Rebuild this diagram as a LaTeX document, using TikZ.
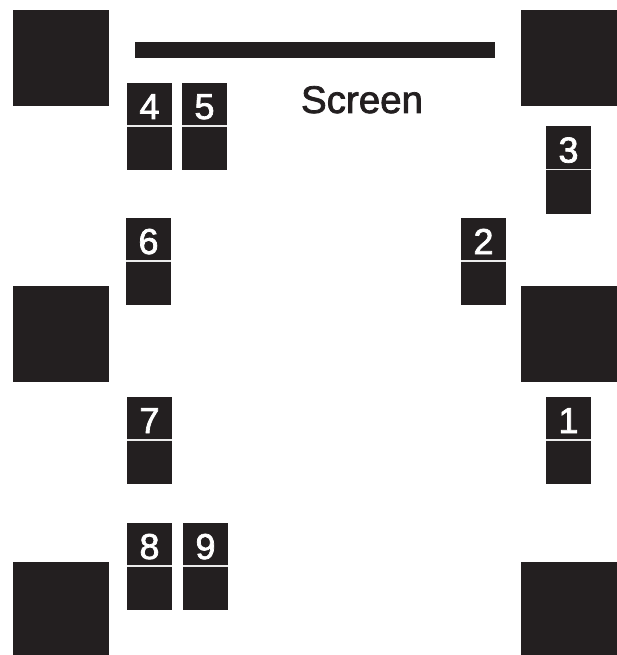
\documentclass[tikz,border=0pt]{standalone}
\usepackage{fontspec}
\setmainfont{Liberation Sans}
\newfontfamily\medfont{Liberation Sans}[FakeBold=2]
\definecolor{ink}{RGB}{35,31,32}
\definecolor{sep}{RGB}{235,235,235}
\begin{document}
\begin{tikzpicture}[x=1pt,y=-1pt,
  bigbox/.style={rectangle, fill=ink, minimum width=96pt, minimum height=96pt, inner sep=0pt},
  spk/.style={rectangle, fill=ink, minimum width=45pt, minimum height=87pt, inner sep=0pt,
    path picture={\draw[sep, line width=1.6pt] ([yshift=0.5pt]path picture bounding box.west) -- ([yshift=0.5pt]path picture bounding box.east);}},
  num/.style={anchor=base, text=white, inner sep=0pt, font=\medfont\fontsize{36}{36}\selectfont},
  bar/.style={rectangle, fill=ink, minimum width=360pt, minimum height=16pt, inner sep=0pt}]
\useasboundingbox (0,0) rectangle (616,655);
% large squares
\node[bigbox] (tl) at (61,58) {};
\node[bigbox] (tr) at (569,58) {};
\node[bigbox] (ml) at (61,334) {};
\node[bigbox] (mr) at (569,334) {};
\node[bigbox] (bl) at (61,610) {};
\node[bigbox] (br) at (569,610) {};
% screen
\node[bar] (screen) at (315,50) {};
\node[anchor=base, inner sep=0pt, text=ink, font=\medfont\fontsize{38.5}{38.5}\selectfont] (screenlbl) at (362,113) {Screen};
% speakers
\node[spk] (s4) at (149.5,126.5) {};
\node[spk] (s5) at (204.5,126.5) {};
\node[spk] (s3) at (568.5,170) {};
\node[spk] (s6) at (148.5,261.5) {};
\node[spk] (s2) at (483.5,261.5) {};
\node[spk] (s7) at (149.5,440.5) {};
\node[spk] (s1) at (568.5,440.5) {};
\node[spk] (s8) at (149.5,566.5) {};
\node[spk] (s9) at (205.5,566.5) {};
% numbers
\node[num] (n4) at ([yshift=7.5pt]s4.center) {4};
\node[num] (n5) at ([yshift=7.5pt]s5.center) {5};
\node[num] (n3) at ([yshift=7.5pt]s3.center) {3};
\node[num] (n6) at ([yshift=7.5pt]s6.center) {6};
\node[num] (n2) at ([yshift=7.5pt]s2.center) {2};
\node[num] (n7) at ([yshift=7.5pt]s7.center) {7};
\node[num] (n1) at ([yshift=7.5pt]s1.center) {1};
\node[num] (n8) at ([yshift=7.5pt]s8.center) {8};
\node[num] (n9) at ([yshift=7.5pt]s9.center) {9};
\end{tikzpicture}
\end{document}
